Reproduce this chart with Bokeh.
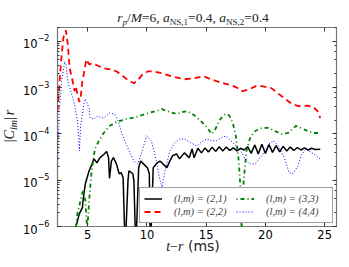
from bokeh.plotting import figure
from bokeh.models import LogAxis, LinearAxis, Legend, LegendItem, FixedTicker, CustomJSTickFormatter, Div
from bokeh.layouts import column, row
from bokeh.embed import file_html
from bokeh.resources import INLINE

# ---------------- data ----------------
t_21 = [3.98, 4.3, 4.55, 4.6, 4.8, 5.12, 5.37, 5.53, 5.78, 6.02, 6.35, 6.6, 6.76, 6.84, 7.0, 7.17,
        7.42, 7.66, 7.83, 7.99, 8.16, 8.4, 8.48, 8.81, 8.9, 9.06, 9.3, 9.47, 9.71, 10.04, 10.2,
        10.29, 10.53, 10.86, 11.1, 11.35, 11.68, 11.93, 12.17, 12.5, 12.75, 13.16, 13.57, 13.81,
        13.98, 14.3, 14.6, 14.9, 15.2, 15.5, 15.8, 16.1, 16.4, 16.7, 17.0, 17.3, 17.6, 17.9,
        18.2, 18.5, 18.8, 19.1, 19.4, 19.7, 20.0, 20.3, 20.6, 20.9, 21.2, 21.5, 21.8, 22.1,
        22.4, 22.7, 23.0, 23.3, 23.6, 23.9, 24.2, 24.63]
c_21 = [9.5e-7, 1.9e-6, 2.56e-6, 3.6e-6, 8.4e-6, 1.6e-5, 2.26e-5, 2.9e-5, 2.38e-5, 3.05e-5,
        3.6e-5, 4.2e-5, 3.05e-5, 1.1e-5, 2.6e-5, 3.1e-5, 2.26e-5, 1.38e-5, 1.45e-5, 1.13e-5,
        3e-7, 9.8e-6, 1.6e-5, 1.38e-5, 9.8e-6, 3e-7, 1.86e-5, 2.6e-5, 2.26e-5, 1.86e-5, 1.38e-5,
        3e-7, 1.86e-5, 2.38e-5, 2.6e-5, 2.26e-5, 1.86e-5, 2.6e-5, 3.4e-5, 3.7e-5, 2.9e-5, 3.9e-5,
        3.05e-5, 4.75e-5, 3.05e-5, 4.9e-5, 3.9e-5, 5.0e-5, 4.1e-5, 5.2e-5, 4.2e-5, 5.3e-5,
        4.3e-5, 5.2e-5, 4.4e-5, 5.0e-5, 4.3e-5, 4.9e-5, 4.5e-5, 5.3e-5, 3.8e-5, 5.8e-5, 3.7e-5,
        6.0e-5, 3.8e-5, 5.9e-5, 4.0e-5, 5.6e-5, 4.1e-5, 5.4e-5, 4.3e-5, 5.2e-5, 4.4e-5, 5.1e-5,
        4.5e-5, 5.0e-5, 4.5e-5, 4.9e-5, 4.6e-5, 4.7e-5]

t_22 = [2.45, 2.6, 2.75, 2.95, 3.16, 3.32, 3.48, 3.73, 3.89, 3.97, 4.14, 4.3, 4.39, 4.55, 4.71,
        4.88, 5.12, 5.37, 5.78, 6.35, 6.9, 7.42, 8.0, 8.4, 8.9, 9.3, 9.63, 10.1, 10.45, 11.27,
        12.09, 13.16, 13.98, 14.8, 15.37, 16.43, 17.1, 17.5, 18.07, 18.65, 19.2, 19.7, 20.5,
        21.35, 22.17, 22.75, 23.57, 24.06, 24.4, 24.63]
c_22 = [3.1e-4, 1.08e-3, 3.7e-3, 1.22e-2, 1.73e-2, 8.6e-3, 2.62e-3, 1.38e-3, 8.4e-4, 1.08e-3,
        7.2e-4, 4.9e-4, 5.7e-4, 1.38e-3, 2.26e-3, 4.1e-3, 3.2e-3, 3.36e-3, 3.05e-3, 2.62e-3,
        2.5e-3, 2.26e-3, 1.77e-3, 1.45e-3, 1.25e-3, 1.52e-3, 1.95e-3, 2.26e-3, 2.26e-3, 2.05e-3,
        1.77e-3, 1.52e-3, 1.6e-3, 1.77e-3, 1.52e-3, 1.25e-3, 1.13e-3, 1.03e-3, 8.4e-4, 9.3e-4,
        1.08e-3, 1.08e-3, 9.8e-4, 6.6e-4, 4.6e-4, 4.0e-4, 4.1e-4, 3.8e-4, 3.1e-4, 2.2e-4]

t_33 = [3.98, 4.14, 4.3, 4.39, 4.55, 4.63, 4.8, 4.96, 5.12, 5.29, 5.45, 5.61, 5.94, 6.35, 6.84,
        7.42, 8.24, 9.06, 9.88, 10.7, 11.27, 11.93, 12.5, 12.99, 13.4, 13.98, 14.55, 15.04,
        15.45, 15.78, 16.19, 16.6, 16.93, 17.25, 17.5, 17.75, 17.91, 17.99, 18.16, 18.4, 18.73,
        19.14, 19.71, 20.29, 20.78, 21.35, 21.93, 22.58, 22.99, 23.57, 24.06, 24.63]
c_33 = [8e-7, 2.0e-6, 2.83e-6, 3.6e-6, 5.4e-6, 5.9e-6, 3.6e-6, 8e-7, 3.6e-6, 1.25e-5, 2.6e-5,
        4.75e-5, 7.1e-5, 1.05e-4, 1.49e-4, 1.81e-4, 2.1e-4, 2.32e-4, 2.7e-4, 3.1e-4, 3.45e-4,
        2.97e-4, 2.7e-4, 2.97e-4, 3.1e-4, 2.56e-4, 1.9e-4, 1.42e-4, 1.0e-4, 1.28e-4, 2.1e-4,
        2.7e-4, 2.56e-4, 1.72e-4, 9.1e-5, 2.6e-5, 5.9e-6, 8e-7, 9.8e-6, 4.3e-5, 8.6e-5, 1.16e-4,
        1.35e-4, 1.35e-4, 1.16e-4, 1.0e-4, 1.05e-4, 1.49e-4, 1.35e-4, 1.16e-4, 1.05e-4, 1.05e-4]

t_44 = [2.45, 2.6, 2.8, 3.07, 3.16, 3.32, 3.57, 3.89, 4.14, 4.25, 4.3, 4.4, 4.47, 4.71, 4.8,
        5.12, 5.2, 5.53, 5.78, 6.35, 6.84, 7.25, 7.58, 7.9, 8.24, 8.57, 8.9, 9.22, 9.55, 9.96,
        10.37, 10.7, 11.02, 11.27, 11.52, 11.93, 12.34, 12.75, 13.16, 13.7, 14.22, 14.6, 15.04,
        15.45, 15.86, 16.25, 16.68, 17.25, 17.83, 18.24, 18.65, 19.14, 19.71, 20.29, 20.7, 21.1,
        21.6, 22.0, 22.34, 22.75, 23.0, 23.4, 23.65, 24.06, 24.63]
c_44 = [2.05e-5, 3.1e-4, 1.38e-3, 3.7e-3, 3.2e-3, 1.38e-3, 8.4e-4, 4.4e-4, 1.9e-4, 7.1e-5,
        4.3e-5, 1.49e-4, 1.9e-4, 5.1e-4, 5.7e-4, 3.6e-4, 2.2e-4, 2.1e-4, 2.44e-4, 2.2e-4, 2.83e-4,
        2.7e-4, 1.9e-4, 1.0e-4, 6.1e-5, 3.9e-5, 2.6e-5, 2.26e-5, 3.9e-5, 9.1e-5, 7.1e-5, 3.4e-5,
        1.25e-5, 6.9e-6, 1.6e-5, 4.3e-5, 6.4e-5, 7.8e-5, 7.8e-5, 6.4e-5, 5.5e-5, 6.7e-5, 7.8e-5,
        7.1e-5, 7.1e-5, 8.2e-5, 9.1e-5, 6.4e-5, 4.75e-5, 3.05e-5, 2.26e-5, 2.26e-5, 3.4e-5,
        6.1e-5, 7.1e-5, 5.5e-5, 3.05e-5, 1.45e-5, 1.38e-5, 2.05e-5, 3.4e-5, 4.75e-5, 4.3e-5,
        3.7e-5, 2.9e-5]

x_ticks = [5, 10, 15, 20, 25]
legend_labels = ["(l,m) = (2,1)", "(l,m) = (2,2)", "(l,m) = (3,3)", "(l,m) = (4,4)"]

# ---------------- figure ----------------
PW, PH = 329, 224
p = figure(width=PW, height=PH, x_range=(2.45, 26), y_range=(1e-6, 2e-2),
           y_axis_type="log", output_backend="svg", toolbar_location=None,
           min_border_left=30, min_border_right=13, min_border_top=7, min_border_bottom=18)
p.grid.visible = False
p.outline_line_color = "#777777"
p.outline_line_width = 1.2
p.background_fill_color = "white"
p.border_fill_alpha = 0.0

for ax in (p.xaxis[0], p.yaxis[0]):
    ax.axis_line_color = None
    ax.major_tick_in = 4
    ax.major_tick_out = 0
    ax.minor_tick_in = 2
    ax.minor_tick_out = 0
    ax.major_tick_line_color = "#333333"
    ax.minor_tick_line_color = "#333333"
    ax.major_label_text_font = "DejaVu Sans"
    ax.major_label_text_font_size = "11.5px"
    ax.major_label_text_color = "black"
p.xaxis.ticker = FixedTicker(ticks=x_ticks)
p.xaxis.major_label_standoff = 3
p.yaxis.major_label_standoff = 8

top = LinearAxis(ticker=FixedTicker(ticks=x_ticks), axis_line_color=None, major_tick_in=4,
                 major_tick_out=0, formatter=CustomJSTickFormatter(code="return ''"),
                 major_label_standoff=0, major_tick_line_color="#333333")
p.add_layout(top, "above")
right = LogAxis(axis_line_color=None, major_tick_in=4, major_tick_out=0, minor_tick_in=2,
                minor_tick_out=0, formatter=CustomJSTickFormatter(code="return ''"),
                major_label_standoff=0,
                major_tick_line_color="#333333", minor_tick_line_color="#333333")
p.add_layout(right, "right")

r21 = p.line(t_21, c_21, line_color="black", line_width=1.5)
r22 = p.line(t_22, c_22, line_color="red", line_width=1.8, line_dash="6 4")
r33 = p.line(t_33, c_33, line_color="green", line_width=1.8, line_dash="1 3 4 3")
r44 = p.line(t_44, c_44, line_color="blue", line_width=1.0, line_dash="1 2")

legend = Legend(items=[LegendItem(label=legend_labels[0], renderers=[r21]),
                       LegendItem(label=legend_labels[1], renderers=[r22]),
                       LegendItem(label=legend_labels[2], renderers=[r33]),
                       LegendItem(label=legend_labels[3], renderers=[r44])],
                location="bottom_right", ncols=2)
legend.label_text_font = "Liberation Serif"
legend.label_text_font_style = "italic"
legend.label_text_font_size = "10.5px"
legend.glyph_width = 18
legend.glyph_height = 13
legend.label_height = 13
legend.label_standoff = 12
legend.label_width = 62
legend.spacing = 0
legend.padding = 4
legend.margin = 3
legend.border_line_color = "#444444"
legend.border_line_width = 1
legend.background_fill_alpha = 1.0
p.add_layout(legend)

# ---------------- title and axis labels as HTML text ----------------
SUB = "font-size:9px; vertical-align:-3px;"
title_html = (
    '<div style="position:relative; width:349px; height:20px;">'
    '<div style="position:absolute; left:193px; top:11px; transform:translateX(-50%); '
    'white-space:nowrap; font-family:\'Liberation Serif\'; font-size:13.5px; line-height:13px; color:#222;">'
    f'<i>r</i><span style="{SUB}"><i>p</i></span>/<i>M</i>=6, '
    f'<i>a</i><span style="{SUB}">NS,1</span>=0.4, '
    f'<i>a</i><span style="{SUB}">NS,2</span>=0.4</div></div>'
)
ylabel_html = (
    '<div style="position:relative; width:20px; height:224px;">'
    '<div style="position:absolute; left:12px; top:106px; '
    'transform:translate(-50%,-50%) rotate(-90deg); white-space:nowrap; '
    'font-family:\'Liberation Serif\'; font-size:14px; line-height:14px; color:#222;">'
    '|<i>C</i><span style="font-size:10px; vertical-align:-3px;"><i>lm</i></span>|'
    '<span style="margin-left:2px"><i>r</i></span></div></div>'
)
xlabel_html = (
    '<div style="position:relative; width:349px; height:23px;">'
    '<div style="position:absolute; left:193px; top:-5px; transform:translateX(-50%); '
    'white-space:nowrap; font-size:14px; line-height:14px; color:#222;">'
    '<span style="font-family:\'Liberation Serif\'"><i>t</i>\u2212<i>r</i></span>'
    '<span style="font-family:\'DejaVu Sans\'"> (ms)</span></div></div>'
)

title_div = Div(text=title_html, width=349, height=20, margin=0)
ylabel_div = Div(text=ylabel_html, width=20, height=224, margin=0)
xlabel_div = Div(text=xlabel_html, width=349, height=23, margin=0)

layout = column(title_div, row(ylabel_div, p, spacing=0), xlabel_div, spacing=0)

open("out.html", "w").write(file_html(layout, INLINE))
